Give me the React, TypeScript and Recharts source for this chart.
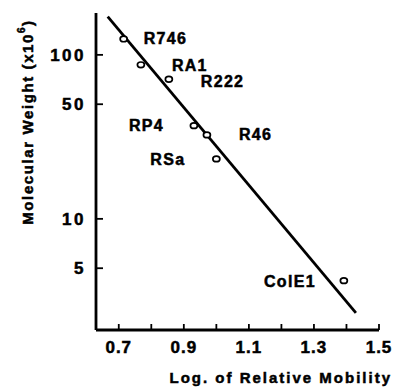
import { ScatterChart, Scatter, XAxis, YAxis } from "recharts";

const plasmids = ["R746", "RA1", "R222", "RP4", "R46", "RSa", "ColE1"];
const mobility = [0.715, 0.768, 0.854, 0.931, 0.971, 1.0, 1.392];
const weight = [125, 87, 71, 37, 32.5, 23.2, 4.2];

const fitMobility = [0.666, 1.429];
const fitWeight = [171, 2.67];

const xTicks = [0.7, 0.8, 0.9, 1.0, 1.1, 1.2, 1.3, 1.4, 1.5];
const xLabelled = [0.7, 0.9, 1.1, 1.3, 1.5];
const yTicks = [5, 10, 50, 100];

const points = plasmids.map((name, i) => ({ name, x: mobility[i], y: weight[i] }));
const fit = fitMobility.map((x, i) => ({ x, y: fitWeight[i] }));

// where each name sits relative to its marker
const labelPos: Record<string, { dx: number; dy: number; anchor: "start" | "end" }> = {
  R746: { dx: 20, dy: -1, anchor: "start" },
  RA1: { dx: 31, dy: 0, anchor: "start" },
  R222: { dx: 32, dy: 2, anchor: "start" },
  RP4: { dx: -30, dy: 0, anchor: "end" },
  R46: { dx: 32, dy: -1, anchor: "start" },
  RSa: { dx: -31, dy: 0, anchor: "end" },
  ColE1: { dx: -28, dy: 1, anchor: "end" },
};

const FONT = "'Liberation Sans', Arial, Helvetica, sans-serif";
// the scanned type is heavier than plain bold, a thin outline thickens it
const heavy = { stroke: "#000", strokeWidth: 0.5 };

const Marker = (props: any) => {
  const { cx, cy, payload } = props;
  const p = labelPos[payload.name];
  return (
    <g>
      <ellipse cx={cx} cy={cy} rx={3.5} ry={2.8} fill="#fff" stroke="#000" strokeWidth={1.7} />
      <text
        x={cx + p.dx}
        y={cy + p.dy}
        dy="0.36em"
        textAnchor={p.anchor}
        fontFamily={FONT}
        fontWeight="bold"
        fontSize={16}
        style={{ letterSpacing: 1.3 }}
        fill="#000"
        {...heavy}
      >
        {payload.name}
      </text>
    </g>
  );
};

const XTick = (props: any) => {
  const { x, y, payload } = props;
  const v = payload.value;
  return (
    <g>
      <line x1={x} y1={y} x2={x} y2={y - 6} stroke="#000" strokeWidth={1.8} />
      {xLabelled.some((t) => Math.abs(t - v) < 1e-6) && (
        <text x={x} y={y + 23} textAnchor="middle" fontFamily={FONT} fontWeight="bold" fontSize={17} style={{ letterSpacing: 1 }} fill="#000" {...heavy}>
          {v.toFixed(1)}
        </text>
      )}
    </g>
  );
};

const YTick = (props: any) => {
  const { x, y, payload } = props;
  return (
    <g>
      <line x1={x} y1={y} x2={x + 7} y2={y} stroke="#000" strokeWidth={1.8} />
      <text x={x - 10} y={y} dy="0.36em" textAnchor="end" fontFamily={FONT} fontWeight="bold" fontSize={17} style={{ letterSpacing: 2.5 }} fill="#000" {...heavy}>
        {payload.value}
      </text>
    </g>
  );
};

export default function App() {
  return (
    <div style={{ position: "absolute", left: 0, top: 0, background: "#fff" }}>
      <ScatterChart width={394} height={387} margin={{ top: 13, right: 15, bottom: 0, left: 0 }}>
        <XAxis
          type="number"
          dataKey="x"
          domain={[0.63, 1.5]}
          ticks={xTicks}
          interval={0}
          allowDataOverflow
          height={57}
          tickSize={0}
          tickMargin={0}
          tickLine={false}
          tick={<XTick />}
          axisLine={{ stroke: "#000", strokeWidth: 2.8 }}
          label={{
            value: "Log. of Relative Mobility",
            position: "insideBottomRight",
            offset: 0,
            content: () => (
              <text x={392} y={383} textAnchor="end" fontFamily={FONT} fontWeight="bold" fontSize={15} style={{ letterSpacing: 2 }} fill="#000" {...heavy}>
                Log. of Relative Mobility
              </text>
            ),
          }}
        />
        <YAxis
          type="number"
          dataKey="y"
          scale="log"
          domain={[2.1, 180]}
          ticks={yTicks}
          interval={0}
          allowDataOverflow
          width={96}
          tickSize={0}
          tickMargin={0}
          tickLine={false}
          tick={<YTick />}
          axisLine={{ stroke: "#000", strokeWidth: 2.8 }}
          label={{
            value: "Molecular Weight",
            content: () => (
              <text
                x={27}
                y={122}
                transform="rotate(-90 27 122)"
                textAnchor="middle"
                dominantBaseline="central"
                fontFamily={FONT}
                fontWeight="bold"
                fontSize={15}
                style={{ letterSpacing: 1.6 }}
                fill="#000"
                {...heavy}
              >
                Molecular Weight (x10
                <tspan fontSize={10} dy={-6}>6</tspan>
                <tspan dy={6}>)</tspan>
              </text>
            ),
          }}
        />
        <Scatter
          data={fit}
          line={{ stroke: "#000", strokeWidth: 2.8 }}
          shape={() => <g />}
          isAnimationActive={false}
        />
        <Scatter data={points} shape={<Marker />} isAnimationActive={false} />
      </ScatterChart>
    </div>
  );
}
